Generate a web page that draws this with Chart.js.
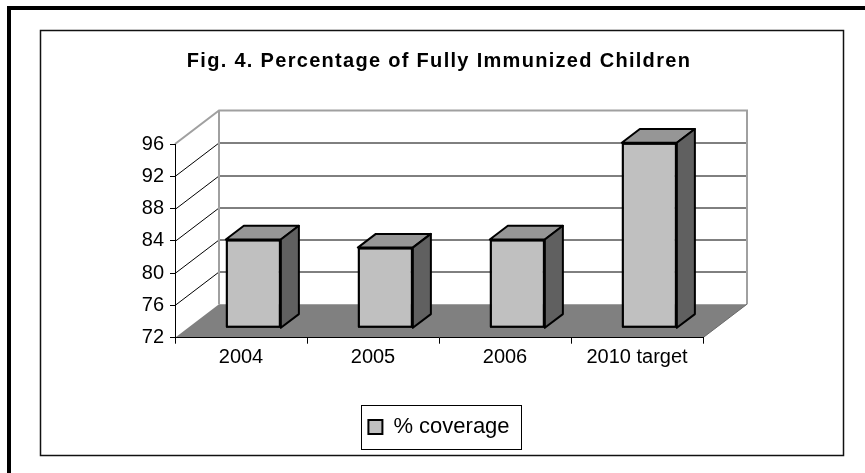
<!DOCTYPE html>
<html>
<head>
<meta charset="utf-8">
<script src="https://cdn.jsdelivr.net/npm/chart.js@4.4.1/dist/chart.umd.min.js"></script>
<style>
  html, body { margin: 0; padding: 0; background: #fff; overflow: hidden; }
  canvas { display: block; }
</style>
</head>
<body>
<canvas id="c" width="865" height="473"></canvas>
<script>
// ---- data ----
const categories = ['2004', '2005', '2006', '2010 target'];
const coverage = [83, 82, 83, 95];
const seriesName = '% coverage';
const yMin = 72, yMax = 96, yStep = 4;
const chartTitle = 'Fig. 4. Percentage of Fully Immunized Children';

// ---- styling ----
const FONT = "Arial, 'Liberation Sans', sans-serif";
const TITLE_SPACING = '1.3px';
const DEPTH_X = 44, DEPTH_Y = 33.5;      // oblique depth of the box
const BAR_NEAR = 0.28, BAR_FAR = 0.69;    // bar slab position inside the depth
const FRONT = '#c0c0c0', TOP = '#969696', SIDE = '#606060';
const FLOOR = '#808080', EDGE = '#a0a0a0';

function poly(ctx, pts) {
  ctx.beginPath();
  ctx.moveTo(pts[0][0], pts[0][1]);
  for (let i = 1; i < pts.length; i++) ctx.lineTo(pts[i][0], pts[i][1]);
  ctx.closePath();
}

const box3d = {
  id: 'box3d',
  beforeDraw(chart) {
    // spaced-out lettering for the title block only
    const tb = chart.titleBlock;
    if (tb && !tb._spaced) {
      const orig = tb.draw.bind(tb);
      tb.draw = function (area) {
        const c = this.ctx, prev = c.letterSpacing;
        c.letterSpacing = TITLE_SPACING;
        orig(area);
        c.letterSpacing = prev || '0px';
      };
      tb._spaced = true;
    }

    const ctx = chart.ctx, a = chart.chartArea, y = chart.scales.y;
    ctx.save();
    ctx.fillStyle = '#fff';
    ctx.fillRect(0, 0, chart.width, chart.height);
    // page frames
    ctx.strokeStyle = '#000';
    ctx.lineWidth = 4;
    ctx.strokeRect(9, 8, 1000, 1000);
    ctx.lineWidth = 1.5;
    ctx.strokeStyle = '#111';
    ctx.strokeRect(40.5, 30.5, 803, 425);

    const L = a.left, R = a.right;
    const T = y.getPixelForValue(yMax), B = y.getPixelForValue(yMin);
    const dx = DEPTH_X, dy = DEPTH_Y;
    // walls
    ctx.fillStyle = '#fff';
    poly(ctx, [[L, T], [L + dx, T - dy], [L + dx, B - dy], [L, B]]); ctx.fill();
    ctx.fillRect(L + dx, T - dy, R - L, B - T);
    // gridlines on side and back walls
    ctx.strokeStyle = '#000';
    ctx.lineWidth = 1;
    for (let v = yMin + yStep; v < yMax; v += yStep) {
      const p = Math.round(y.getPixelForValue(v)) + 0.5;
      ctx.beginPath();
      ctx.moveTo(L, p);
      ctx.lineTo(L + dx, p - dy);
      ctx.lineTo(R + dx, p - dy);
      ctx.stroke();
    }
    // wall edges
    ctx.strokeStyle = EDGE;
    ctx.lineWidth = 2;
    ctx.beginPath();
    ctx.moveTo(L, T);
    ctx.lineTo(L + dx, T - dy);
    ctx.lineTo(R + dx, T - dy);
    ctx.lineTo(R + dx, B - dy);
    ctx.moveTo(L + dx, T - dy);
    ctx.lineTo(L + dx, B - dy);
    ctx.stroke();
    // floor
    ctx.fillStyle = FLOOR;
    poly(ctx, [[L, B], [L + dx, B - dy], [R + dx, B - dy], [R, B]]);
    ctx.fill();
    ctx.strokeStyle = '#6a6a6a';
    ctx.lineWidth = 1;
    ctx.beginPath();
    ctx.moveTo(R, B); ctx.lineTo(R + dx, B - dy);
    ctx.stroke();
    ctx.restore();
  },
  beforeDatasetsDraw(chart) {
    chart.ctx.save();
    chart.ctx.translate(DEPTH_X * BAR_NEAR, -DEPTH_Y * BAR_NEAR);
  },
  afterDatasetsDraw(chart) {
    const ctx = chart.ctx;
    const ddx = DEPTH_X * (BAR_FAR - BAR_NEAR), ddy = DEPTH_Y * (BAR_FAR - BAR_NEAR);
    const meta = chart.getDatasetMeta(0);
    ctx.lineWidth = 2;
    ctx.lineJoin = 'round';
    ctx.strokeStyle = '#000';
    meta.data.forEach(el => {
      const p = el.getProps(['x', 'y', 'base', 'width'], true);
      const l = p.x - p.width / 2, r = p.x + p.width / 2, t = p.y, b = p.base;
      ctx.fillStyle = TOP;
      poly(ctx, [[l, t], [l + ddx, t - ddy], [r + ddx, t - ddy], [r, t]]);
      ctx.fill(); ctx.stroke();
      ctx.fillStyle = SIDE;
      poly(ctx, [[r, t], [r + ddx, t - ddy], [r + ddx, b - ddy], [r, b]]);
      ctx.fill(); ctx.stroke();
      ctx.strokeRect(l + 1, t + 1, r - l - 2, b - t - 2);
    });
    ctx.restore();
  },
  afterDraw(chart) {
    const lg = chart.legend;
    if (!lg || !lg.legendHitBoxes || !lg.legendHitBoxes.length) return;
    const hb = lg.legendHitBoxes[0];
    const cy = hb.top + hb.height / 2;
    const ctx = chart.ctx;
    ctx.save();
    ctx.strokeStyle = '#000';
    ctx.lineWidth = 1;
    ctx.strokeRect(Math.round(hb.left - 7) + 0.5, Math.round(cy - 22) + 0.5,
                   Math.round(hb.width + 19), 44);
    ctx.restore();
  }
};

new Chart(document.getElementById('c'), {
  type: 'bar',
  data: {
    labels: categories,
    datasets: [{
      label: seriesName,
      data: coverage,
      base: yMin,
      backgroundColor: FRONT,
      borderColor: '#000',
      borderWidth: 2,
      borderSkipped: false,
      barPercentage: 1,
      categoryPercentage: 0.417,
      clip: false
    }]
  },
  options: {
    responsive: false,
    animation: false,
    devicePixelRatio: 1,
    layout: { padding: { left: 105, right: 162, top: 0, bottom: 25 } },
    plugins: {
      title: {
        display: true,
        text: chartTitle,
        fullSize: false,
        color: '#000',
        font: { family: FONT, size: 20, weight: 'bold' },
        padding: { top: 49, bottom: 71 }
      },
      legend: {
        position: 'bottom',
        fullSize: false,
        labels: {
          color: '#000',
          font: { family: FONT, size: 22 },
          boxWidth: 14,
          boxHeight: 14,
          padding: 10
        }
      },
      tooltip: { enabled: false }
    },
    scales: {
      x: {
        grid: { display: true, offset: true, drawOnChartArea: false, drawTicks: true, tickLength: 6, color: '#000' },
        border: { display: true, color: '#000', width: 1 },
        ticks: { color: '#000', font: { family: FONT, size: 20 }, padding: 2, maxRotation: 0 },
        afterFit(s) { s.height = 68.3; }
      },
      y: {
        min: yMin, max: yMax,
        grid: { display: true, drawOnChartArea: false, drawTicks: true, tickLength: 5, color: '#000' },
        border: { display: true, color: '#000', width: 1 },
        ticks: { stepSize: yStep, color: '#000', font: { family: FONT, size: 20 }, padding: 6 },
        afterFit(s) { s.width = 70; }
      }
    }
  },
  plugins: [box3d]
});
</script>
</body>
</html>
